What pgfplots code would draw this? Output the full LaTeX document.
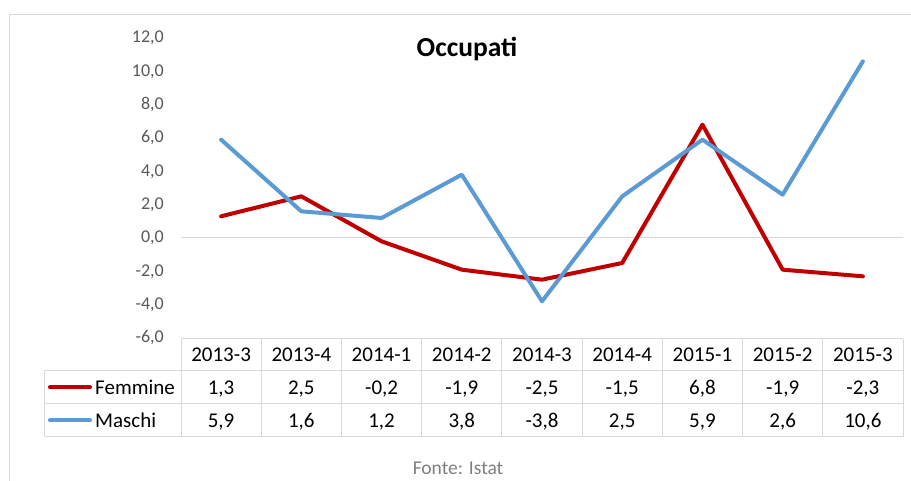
\documentclass[border=0pt]{standalone}
\usepackage{fontspec}
\setmainfont{Carlito}
\usepackage{pgfplots}
\pgfplotsset{compat=1.18}
\usepackage{pgfplotstable}
\definecolor{fem}{HTML}{C00000}
\definecolor{mas}{HTML}{5B9BD5}
\definecolor{gridc}{HTML}{D9D9D9}
\definecolor{lab}{HTML}{595959}
\definecolor{foot}{HTML}{7F7F7F}

\pgfplotstableread{
x fem mas
0.5 1.3 5.9
1.5 2.5 1.6
2.5 -0.2 1.2
3.5 -1.9 3.8
4.5 -2.5 -3.8
5.5 -1.5 2.5
6.5 6.8 5.9
7.5 -1.9 2.6
8.5 -2.3 10.6
}\data

\begin{document}
\begin{tikzpicture}[x=1pt,y=1pt]
\useasboundingbox (0,0) rectangle (911,481);
\fill[white] (0,0) rectangle (911,481);
\draw[gridc, line width=1pt] (9.5,-2) -- (9.5,466) -- (915,466);
\begin{axis}[
  at={(181pt,143pt)}, anchor=south west,
  scale only axis, width=722pt, height=300pt,
  xmin=0, xmax=9, ymin=-6, ymax=12,
  axis line style={draw=none},
  xtick=\empty, ytick distance=2, major tick length=0pt,
  /pgf/number format/fixed, /pgf/number format/fixed zerofill,
  /pgf/number format/precision=1, /pgf/number format/use comma,
  /pgf/number format/assume math mode=true,
  yticklabel style={font=\fontsize{18}{20}\selectfont, text=lab, anchor=east, inner sep=0pt, xshift=-17pt},
  clip=false,
]
\draw[gridc, line width=1pt] (axis cs:0,0) -- (axis cs:9,0);
\addplot[fem, line width=4pt, line join=round, line cap=round] table[x=x, y=fem] {\data};
\addplot[mas, line width=4pt, line join=round, line cap=round] table[x=x, y=mas] {\data};
\end{axis}
% title
\node[font=\bfseries\fontsize{27.5}{30}\selectfont, anchor=base] at (467,424.5) {Occupati};
% data table
\begin{scope}[gridc, line width=1pt]
\draw (181,142) -- (903,142);
\foreach \yy in {110,77,44} \draw (44,\yy) -- (903,\yy);
\draw (44,110) -- (44,44);
\foreach \k in {0,...,9} \draw ({181+80.222*\k},142) -- ({181+80.222*\k},44);
\end{scope}
\begin{scope}[font=\fontsize{21}{24}\selectfont]
\foreach \l [count=\i from 0] in {2013-3,2013-4,2014-1,2014-2,2014-3,2014-4,2015-1,2015-2,2015-3}
  \node[anchor=base] at ({181+80.222*(\i+0.5)},119) {\l};
\foreach \l [count=\i from 0] in {{1,3},{2,5},{-0,2},{-1,9},{-2,5},{-1,5},{6,8},{-1,9},{-2,3}}
  \node[anchor=base] at ({181+80.222*(\i+0.5)},86) {\l};
\foreach \l [count=\i from 0] in {{5,9},{1,6},{1,2},{3,8},{-3,8},{2,5},{5,9},{2,6},{10,6}}
  \node[anchor=base] at ({181+80.222*(\i+0.5)},53) {\l};
\draw[fem, line width=4pt, line cap=round] (50,93.5) -- (90,93.5);
\draw[mas, line width=4pt, line cap=round] (50,60.5) -- (90,60.5);
\node[anchor=base west, inner sep=0pt] at (95,86) {Femmine};
\node[anchor=base west, inner sep=0pt] at (95,53) {Maschi};
\end{scope}
\node[font=\fontsize{19.5}{22}\selectfont, text=foot, anchor=base, inner sep=0pt] at (458,6) {Fonte: Istat};
\end{tikzpicture}
\end{document}
